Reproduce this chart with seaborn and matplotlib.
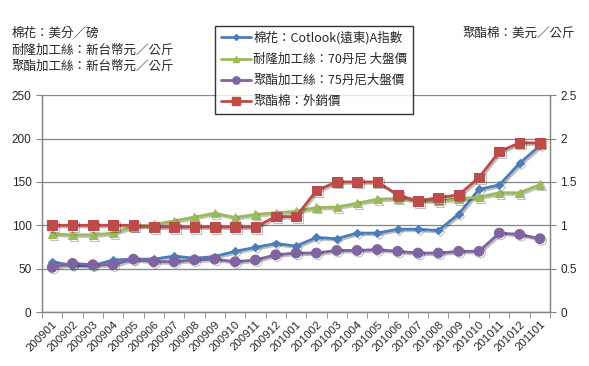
import matplotlib
matplotlib.use('Agg')
import matplotlib.pyplot as plt
import matplotlib.patheffects as pe
import seaborn as sns
import pandas as pd
import numpy as np

months = ['200901', '200902', '200903', '200904', '200905', '200906', '200907',
          '200908', '200909', '200910', '200911', '200912', '201001', '201002',
          '201003', '201004', '201005', '201006', '201007', '201008', '201009',
          '201010', '201011', '201012', '201101']

cotton = [58, 53.5, 53.5, 60, 61, 61, 64.5, 62, 64, 70, 74.5, 79, 76,
          86, 84.5, 91, 91, 95.5, 95.5, 94, 113, 141.5, 146.5, 171.5, 192]
nylon = [90, 89, 89, 91, 98.5, 101, 105, 109.5, 114, 109, 112.5, 114.5, 116,
         120.5, 121, 125.5, 130, 131, 128.5, 128, 130.5, 132.5, 137.5, 137.5, 147]
polyester_yarn = [51.5, 56, 54.5, 54.5, 61, 58, 58, 60, 61, 58, 60, 66, 68,
                  68, 71, 71, 72, 70, 68, 68, 70, 70, 91, 89.5, 84.5]
polyester_staple = [1.0, 1.0, 1.0, 1.0, 1.0, 0.98, 0.98, 0.98, 0.98, 0.98, 0.98,
                    1.1, 1.1, 1.4, 1.5, 1.5, 1.5, 1.35, 1.28, 1.32, 1.35, 1.55,
                    1.85, 1.95, 1.95]

labels = ['棉花：Cotlook(遠東)A指數', '耐隆加工絲：70丹尼 大盤價',
          '聚酯加工絲：75丹尼大盤價', '聚酯棉：外銷價']
colors = ['#4A7EBB', '#9BBB59', '#8064A2', '#BE4B48']
markers = ['D', '^', 'o', 's']
msizes = [4, 6, 7, 7]

sns.set_style('white')
plt.rcParams['font.family'] = ['Noto Sans CJK TC', 'DejaVu Sans']
plt.rcParams['axes.unicode_minus'] = False

df = pd.DataFrame({'x': np.arange(len(months)), 'cotton': cotton, 'nylon': nylon,
                   'pyarn': polyester_yarn, 'pstaple': polyester_staple})

fig = plt.figure(figsize=(5.89, 3.66), dpi=100)
ax = fig.add_axes([0.0713, 0.1475, 0.8627, 0.5925])
ax2 = ax.twinx()

shadow = [pe.SimpleLineShadow(offset=(1.2, -1.2), alpha=0.25), pe.Normal()]

for col, c, m, ms in zip(['cotton', 'nylon', 'pyarn'], colors[:3], markers[:3], msizes[:3]):
    sns.lineplot(data=df, x='x', y=col, ax=ax, color=c, marker=m, markersize=ms,
                 markeredgecolor=c, linewidth=2, path_effects=shadow, legend=False)
sns.lineplot(data=df, x='x', y='pstaple', ax=ax2, color=colors[3], marker=markers[3],
             markersize=msizes[3], markeredgecolor=colors[3], linewidth=2,
             path_effects=shadow, legend=False)

ax.set_xlim(-0.5, len(months) - 0.5)
ax.set_ylim(0, 250)
ax2.set_ylim(0, 2.5)
ax.set_yticks(np.arange(0, 251, 50))
ax2.set_yticks(np.arange(0, 2.51, 0.5))
ax2.set_yticklabels(['0', '0.5', '1', '1.5', '2', '2.5'])
ax.set_xticks(np.arange(len(months)))
ax.set_xticklabels(months, rotation=45, ha='right', rotation_mode='anchor', fontsize=8.2,
                   family=['Liberation Sans', 'DejaVu Sans'])
ax.set_xticks(np.arange(-0.5, len(months)), minor=True)
ax.tick_params(axis='x', which='major', length=0, pad=5)
ax.tick_params(axis='x', which='minor', length=4, color='#868686', direction='out', bottom=True)
ax.tick_params(axis='y', length=4, color='#868686', direction='out', left=True, labelsize=8.5)
ax2.tick_params(axis='y', length=4, color='#868686', direction='out', right=True, labelsize=8.5)
for a in (ax, ax2):
    for lab in a.get_yticklabels():
        lab.set_family(['Liberation Sans', 'DejaVu Sans'])
ax.set_xlabel('')
ax.set_ylabel('')
ax2.set_ylabel('')
ax.grid(axis='y', color='#868686', linewidth=0.9)
ax.set_axisbelow(True)
for a in (ax, ax2):
    a.spines['top'].set_visible(False)
    for s in ['left', 'right', 'bottom']:
        a.spines[s].set_color('#868686')
        a.spines[s].set_linewidth(0.9)

handles = [plt.Line2D([], [], color=c, marker=m, markersize=ms * 0.75, linewidth=2,
                      markeredgecolor=c) for c, m, ms in zip(colors, markers, msizes)]
leg = fig.legend(handles, labels, loc='upper left', bbox_to_anchor=(0.355, 0.947),
                 fontsize=9, frameon=True, fancybox=False, edgecolor='black',
                 handlelength=2.4, labelspacing=0.65, borderpad=0.45, handletextpad=0.2)
leg.get_frame().set_linewidth(1)
leg.get_frame().set_facecolor('white')
leg.set_zorder(10)

fig.text(0.02, 0.91, '棉花：美分／磅', fontsize=9, va='center')
fig.text(0.02, 0.863, '耐隆加工絲：新台幣元／公斤', fontsize=9, va='center')
fig.text(0.02, 0.82, '聚酯加工絲：新台幣元／公斤', fontsize=9, va='center')
fig.text(0.785, 0.91, '聚酯棉：美元／公斤', fontsize=9, va='center')

fig.savefig('out.png', dpi=100)
